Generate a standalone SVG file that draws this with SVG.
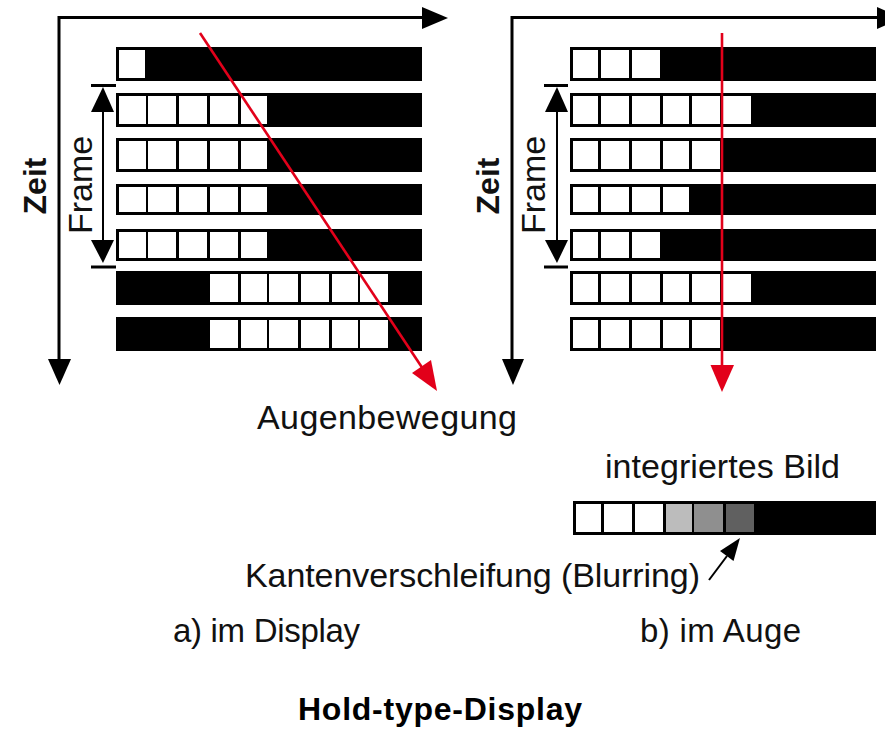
<svg xmlns="http://www.w3.org/2000/svg" width="885" height="730" viewBox="0 0 885 730">
<style>
.bar{fill:#000}
.c{fill:#fff}
.ax{stroke:#000;stroke-width:3;fill:none}
.ah{fill:#000}
.fr{stroke:#000;stroke-width:2;fill:none}
.red{stroke:#e2001a;stroke-width:2.6;fill:none}
.rh{fill:#e2001a}
.t{font-family:"Liberation Sans",Arial,sans-serif;font-size:34px;fill:#111}
.tz{font-family:"Liberation Sans",Arial,sans-serif;font-size:32px;font-weight:bold;fill:#111}
.tb{font-family:"Liberation Sans",Arial,sans-serif;font-size:32px;font-weight:bold;fill:#000}
</style>
<rect width="885" height="730" fill="#fff"/>

<!-- Panel a) rows -->
<g id="panel-a-rows">
  <g id="a-row1"><rect class="bar" x="116" y="47" width="306" height="34"/><rect class="c" x="119" y="50" width="26" height="28"/></g>
  <g id="a-row2"><rect class="bar" x="116" y="93" width="306" height="34"/>
    <rect class="c" x="119" y="96" width="27" height="28"/><rect class="c" x="148" y="96" width="28" height="28"/><rect class="c" x="179" y="96" width="28" height="28"/><rect class="c" x="210" y="96" width="28" height="28"/><rect class="c" x="241" y="96" width="26" height="28"/></g>
  <g id="a-row3"><rect class="bar" x="116" y="138" width="306" height="34"/>
    <rect class="c" x="119" y="141" width="27" height="28"/><rect class="c" x="148" y="141" width="28" height="28"/><rect class="c" x="179" y="141" width="28" height="28"/><rect class="c" x="210" y="141" width="28" height="28"/><rect class="c" x="241" y="141" width="26" height="28"/></g>
  <g id="a-row4"><rect class="bar" x="116" y="184" width="306" height="31"/>
    <rect class="c" x="119" y="187" width="27" height="25"/><rect class="c" x="148" y="187" width="28" height="25"/><rect class="c" x="179" y="187" width="28" height="25"/><rect class="c" x="210" y="187" width="28" height="25"/><rect class="c" x="241" y="187" width="26" height="25"/></g>
  <g id="a-row5"><rect class="bar" x="116" y="229" width="306" height="32"/>
    <rect class="c" x="119" y="232" width="27" height="26"/><rect class="c" x="148" y="232" width="28" height="26"/><rect class="c" x="179" y="232" width="28" height="26"/><rect class="c" x="210" y="232" width="28" height="26"/><rect class="c" x="241" y="232" width="26" height="26"/></g>
  <g id="a-row6"><rect class="bar" x="116" y="271" width="306" height="34"/>
    <rect class="c" x="210" y="274" width="28" height="28"/><rect class="c" x="241" y="274" width="26" height="28"/><rect class="c" x="269" y="274" width="29" height="28"/><rect class="c" x="301" y="274" width="28" height="28"/><rect class="c" x="332" y="274" width="26" height="28"/><rect class="c" x="360" y="274" width="28" height="28"/></g>
  <g id="a-row7"><rect class="bar" x="116" y="317" width="306" height="34"/>
    <rect class="c" x="210" y="320" width="28" height="28"/><rect class="c" x="241" y="320" width="26" height="28"/><rect class="c" x="269" y="320" width="29" height="28"/><rect class="c" x="301" y="320" width="28" height="28"/><rect class="c" x="332" y="320" width="26" height="28"/><rect class="c" x="360" y="320" width="28" height="28"/></g>
</g>

<!-- Panel b) rows -->
<g id="panel-b-rows">
  <g id="b-row1"><rect class="bar" x="570" y="47" width="306" height="34"/>
    <rect class="c" x="573" y="50" width="25" height="28"/><rect class="c" x="601" y="50" width="28" height="28"/><rect class="c" x="632" y="50" width="28" height="28"/></g>
  <g id="b-row2"><rect class="bar" x="570" y="93" width="306" height="34"/>
    <rect class="c" x="573" y="96" width="25" height="28"/><rect class="c" x="601" y="96" width="28" height="28"/><rect class="c" x="632" y="96" width="28" height="28"/><rect class="c" x="663" y="96" width="26" height="28"/><rect class="c" x="692" y="96" width="28" height="28"/><rect class="c" x="723" y="96" width="28" height="28"/></g>
  <g id="b-row3"><rect class="bar" x="570" y="138" width="306" height="34"/>
    <rect class="c" x="573" y="141" width="25" height="28"/><rect class="c" x="601" y="141" width="28" height="28"/><rect class="c" x="632" y="141" width="28" height="28"/><rect class="c" x="663" y="141" width="26" height="28"/><rect class="c" x="692" y="141" width="28" height="28"/></g>
  <g id="b-row4"><rect class="bar" x="570" y="184" width="306" height="31"/>
    <rect class="c" x="573" y="187" width="25" height="25"/><rect class="c" x="601" y="187" width="28" height="25"/><rect class="c" x="632" y="187" width="28" height="25"/><rect class="c" x="663" y="187" width="26" height="25"/></g>
  <g id="b-row5"><rect class="bar" x="570" y="229" width="306" height="32"/>
    <rect class="c" x="573" y="232" width="25" height="26"/><rect class="c" x="601" y="232" width="28" height="26"/><rect class="c" x="632" y="232" width="28" height="26"/></g>
  <g id="b-row6"><rect class="bar" x="570" y="271" width="306" height="34"/>
    <rect class="c" x="573" y="274" width="25" height="28"/><rect class="c" x="601" y="274" width="28" height="28"/><rect class="c" x="632" y="274" width="28" height="28"/><rect class="c" x="663" y="274" width="26" height="28"/><rect class="c" x="692" y="274" width="28" height="28"/><rect class="c" x="723" y="274" width="28" height="28"/></g>
  <g id="b-row7"><rect class="bar" x="570" y="317" width="306" height="34"/>
    <rect class="c" x="573" y="320" width="25" height="28"/><rect class="c" x="601" y="320" width="28" height="28"/><rect class="c" x="632" y="320" width="28" height="28"/><rect class="c" x="663" y="320" width="26" height="28"/><rect class="c" x="692" y="320" width="28" height="28"/></g>
</g>

<!-- integrated image -->
<g id="integrated-bar">
  <rect class="bar" x="573" y="501" width="303" height="34"/>
  <rect class="c" x="576" y="504" width="25" height="28"/>
  <rect class="c" x="604" y="504" width="28" height="28"/>
  <rect class="c" x="635" y="504" width="28" height="28"/>
  <rect x="666" y="504" width="26" height="28" fill="#bcbcbc"/>
  <rect x="694" y="504" width="29" height="28" fill="#8f8f8f"/>
  <rect x="726" y="504" width="28" height="28" fill="#606060"/>
</g>

<!-- connectors -->
<g id="connectors">
  <polyline class="ax" points="59,360 59,17.5 424,17.5"/>
  <polygon class="ah" points="422,7 422,29 448,18"/>
  <polygon class="ah" points="48,359 71,359 59.5,385"/>
  <polyline class="ax" points="512,360 512,17.5 879,17.5"/>
  <polygon class="ah" points="877,7 877,29 903,18"/>
  <polygon class="ah" points="502,359 524,359 513,385"/>
  <line class="fr" x1="103" y1="100" x2="103" y2="250"/>
  <line class="ax" x1="91" y1="85.5" x2="116" y2="85.5"/>
  <line class="ax" x1="91" y1="267" x2="116" y2="267"/>
  <polygon class="ah" points="103,87 114,112 91,112"/>
  <polygon class="ah" points="91,240 114,240 103,263"/>
  <line class="fr" x1="557" y1="100" x2="557" y2="250"/>
  <line class="ax" x1="544" y1="85.5" x2="568" y2="85.5"/>
  <line class="ax" x1="544" y1="267" x2="568" y2="267"/>
  <polygon class="ah" points="557,87 568,112 545,112"/>
  <polygon class="ah" points="545,240 568,240 557,263"/>
  <line class="red" x1="200" y1="33" x2="423" y2="369"/>
  <polygon class="rh" points="437,391 412,373 431,360"/>
  <line class="red" x1="722" y1="33" x2="722" y2="367"/>
  <polygon class="rh" points="710.5,365 734,365 722,392"/>
  <line stroke="#000" stroke-width="2" x1="709" y1="580" x2="727" y2="556"/>
  <polygon class="ah" points="740,538 733.5,561 720,551"/>
</g>

<!-- labels -->
<g id="labels">
  <text class="tz" transform="translate(45.5,186) rotate(-90)" text-anchor="middle">Zeit</text>
  <text class="t" transform="translate(91.5,185) rotate(-90)" text-anchor="middle">Frame</text>
  <text class="tz" transform="translate(498.5,186) rotate(-90)" text-anchor="middle">Zeit</text>
  <text class="t" transform="translate(544.5,185) rotate(-90)" text-anchor="middle">Frame</text>
  <text class="t" x="257" y="429" textLength="260" lengthAdjust="spacing">Augenbewegung</text>
  <text class="t" x="605" y="478" textLength="235" lengthAdjust="spacing">integriertes Bild</text>
  <text class="t" x="245" y="587" textLength="455" lengthAdjust="spacing">Kantenverschleifung (Blurring)</text>
  <text class="t" style="font-size:33px" x="173" y="642" textLength="187" lengthAdjust="spacing">a) im Display</text>
  <text class="t" style="font-size:33px" x="640" y="642" textLength="161" lengthAdjust="spacing">b) im Auge</text>
  <text class="tb" x="298" y="720" textLength="284" lengthAdjust="spacing">Hold-type-Display</text>
</g>
</svg>
